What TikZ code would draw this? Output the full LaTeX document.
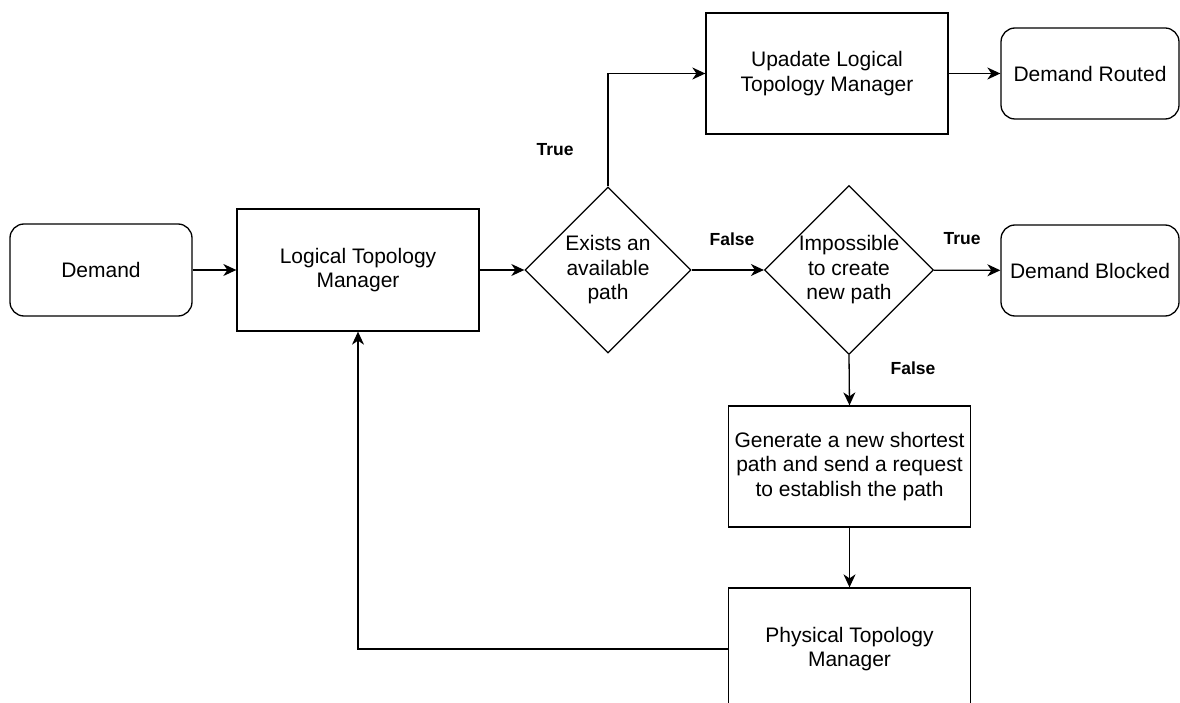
\documentclass[tikz,border=0pt]{standalone}
\usepackage{fontspec}
\setmainfont{Liberation Sans}
\usetikzlibrary{shapes.geometric,arrows.meta}
\tikzset{
  txt/.style={font=\fontsize{21}{24.5}\selectfont, align=center},
  box/.style={txt, draw, line width=1.3pt, minimum width=242pt, minimum height=121pt, inner sep=0pt},
  term/.style={txt, draw, line width=1.3pt, rounded corners=14pt, minimum width=178pt, minimum height=91pt, inner sep=0pt},
  decide/.style={txt, draw, line width=1.3pt, diamond, aspect=1, minimum width=166pt, minimum height=166pt, inner sep=0pt},
  flow/.style={line width=1.3pt, -{Stealth[length=13pt,width=12pt,inset=4pt]}},
  lbl/.style={font=\bfseries\fontsize{17.5}{20}\selectfont}
}
\begin{document}
\begin{tikzpicture}[x=1pt,y=-1pt]
\clip (0,0) rectangle (1180,703);
\fill[white] (0,0) rectangle (1180,703);

% process boxes and terminals
\node[term, minimum width=182pt, minimum height=92pt] (demand) at (101,270) {Demand};
\node[box, minimum height=122pt] (ltm) at (358,270) {Logical Topology\\Manager};
\node[decide] (exists) at (608,270) {Exists an\\available\\path};
\node[box] (update) at (827,73.5) {Upadate Logical\\Topology Manager};
\node[term] (routed) at (1090,73.5) {Demand Routed};
\node[decide] (impossible) at (849,270) {Impossible\\to create\\new path};
\node[term] (blocked) at (1090,270.5) {Demand Blocked};
\node[box] (generate) at (849.5,466.5) {Generate a new shortest\\path and send a request\\to establish the path};
\node[box, minimum height=122pt] (physical) at (849.5,649) {Physical Topology\\Manager};

% branch labels
\node[lbl] (t1) at (555,150) {True};
\node[lbl] (f1) at (732,239) {False};
\node[lbl] (t2) at (962,239) {True};
\node[lbl] (f2) at (913,368) {False};

% connectors
\draw[flow] (demand) -- (ltm);
\draw[flow] (ltm) -- (exists);
\draw[flow] (exists.north) |- (update.west);
\draw[flow] (update) -- (routed);
\draw[flow] (exists) -- (impossible);
\draw[flow] (impossible) -- (blocked);
\draw[flow] (impossible.south) -- (generate.north);
\draw[flow] (generate) -- (physical);
\draw[flow] (physical.west) -| (ltm.south);
\end{tikzpicture}
\end{document}
